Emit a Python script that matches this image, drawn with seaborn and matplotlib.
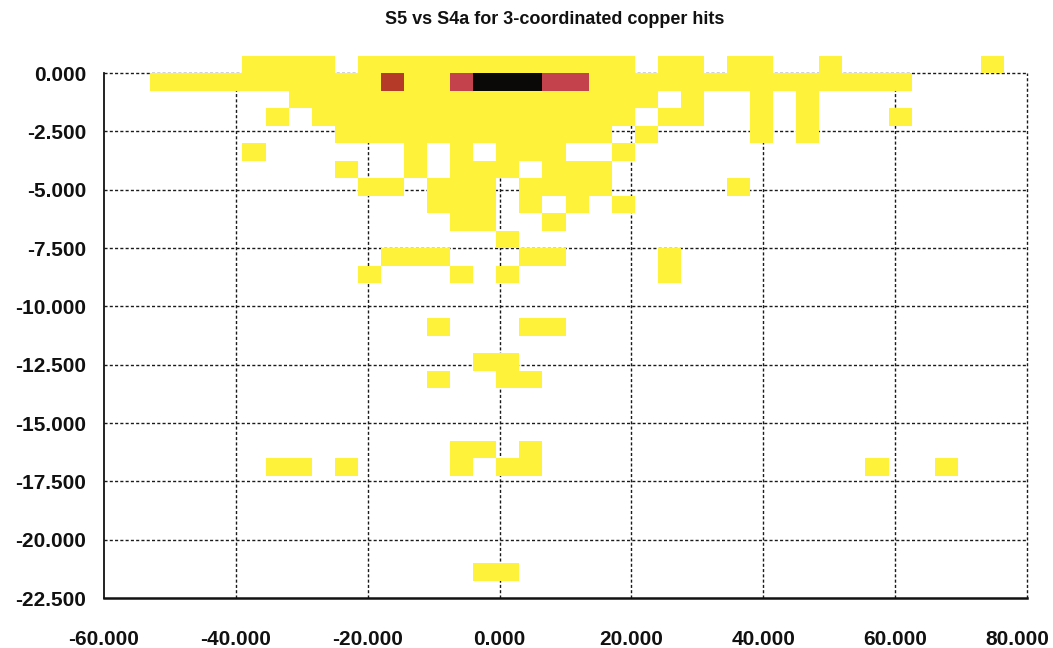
import numpy as np
import pandas as pd
import matplotlib
matplotlib.use("Agg")
import matplotlib.pyplot as plt
from matplotlib.colors import ListedColormap
from matplotlib.transforms import ScaledTranslation
import seaborn as sns

# Histogram bins: S4a along x (3.5 wide), S5 along y (0.75 high)
x_edges = np.arange(-60.0, 80.0 + 1e-6, 3.5)
y_edges = np.arange(-22.5, 0.75 + 1e-6, 0.75)

# Hit density per bin, one string per S5 bin from the top (+0.75..0) down to
# the bottom (-21.75..-22.5); one character per S4a bin from -60 to 80.
# '.' empty, '1' few hits, '2'/'3' more hits, '4' most hits
density_rows = [
    "......1111.111111111111.11.11..1......1.",
    "..111111111121134443311111111111111.....",
    "........1111111111111111.1..1.1.........",
    ".......1.11111111111111.11..1.1...1.....",
    "..........111111111111.1....1.1.........",
    "......1......1.1.111..1.................",
    "..........1..1.111.111..................",
    "...........11.111.1111.....1............",
    "..............111.1.1.1.................",
    "...............11..1....................",
    ".................1......................",
    "............111...11....1...............",
    "...........1...1.1......1...............",
    "........................................",
    "........................................",
    "..............1...11....................",
    "........................................",
    "................11......................",
    "..............1..11.....................",
    "........................................",
    "........................................",
    "........................................",
    "...............11.1.....................",
    ".......11.1....1.11..............1..1...",
    "........................................",
    "........................................",
    "........................................",
    "........................................",
    "........................................",
    "................11......................",
    "........................................",
]

level_colors = ["#fff23a", "#b53a27", "#c4424c", "#0b0808"]

x_ticks = [-60, -40, -20, 0, 20, 40, 60, 80]
y_ticks = [0.0, -2.5, -5.0, -7.5, -10.0, -12.5, -15.0, -17.5, -20.0, -22.5]

# Turn the density map into bin-centre records for the histogram
n_cols = len(x_edges) - 1
n_rows = len(y_edges) - 1
assert len(density_rows) == n_rows
records = []
for j, row in enumerate(density_rows):
    assert len(row) == n_cols, (j, len(row))
    y_top = y_edges[n_rows - j]
    for n, ch in enumerate(row):
        if ch != ".":
            records.append({
                "s4a": 0.5 * (x_edges[n] + x_edges[n + 1]),
                "s5": y_top - 0.375,
                "level": int(ch),
            })
df = pd.DataFrame(records)

sns.set_style("white")
plt.rcParams["font.family"] = ["Liberation Sans", "DejaVu Sans"]

W, H = 1053, 648
fig = plt.figure(figsize=(W / 100, H / 100), dpi=100)
ax = fig.add_axes([104 / W, (H - 598) / H, (1027 - 104) / W, (598 - 49.7) / H])

sns.histplot(
    data=df, x="s4a", y="s5", weights="level",
    bins=[x_edges, y_edges],
    cmap=ListedColormap(level_colors), vmin=0.5, vmax=4.5,
    ax=ax, zorder=2,
)

# Dotted reference grid, confined to the plotting frame and under the bins
dash = (0, (2.2, 1.6))
for yv in y_ticks[:-1]:
    ax.plot([-60, 80], [yv, yv], ls=dash, color="#1a1a1a", lw=1.0,
            zorder=1, clip_on=False)
for xv in x_ticks[1:]:
    ax.plot([xv, xv], [-22.5, 0], ls=dash, color="#1a1a1a", lw=1.0,
            zorder=1, clip_on=False)

ax.set_xlim(-60, 80)
ax.set_ylim(-22.5, 1.0)
ax.set_xticks(x_ticks)
ax.set_xticklabels([f"{v:.3f}" for v in x_ticks])
ax.set_yticks(y_ticks)
ax.set_yticklabels([f"{v:.3f}" for v in y_ticks])
ax.set_xlabel("")
ax.set_ylabel("")

for side in ("top", "right"):
    ax.spines[side].set_visible(False)
ax.spines["left"].set_bounds(-22.5, 0)
ax.spines["left"].set_linewidth(1.3)
ax.spines["left"].set_color("#111111")
ax.spines["bottom"].set_linewidth(1.8)
ax.spines["bottom"].set_color("#111111")

ax.tick_params(axis="x", direction="out", length=9, width=1.1, pad=14,
               labelsize=15, colors="#111111")
ax.tick_params(axis="y", direction="out", length=7, width=1.1, pad=6,
               labelsize=15, colors="#111111")
for lab in ax.get_xticklabels() + ax.get_yticklabels():
    lab.set_fontweight("bold")

# keep the right-most x label inside the figure
last = ax.get_xticklabels()[-1]
last.set_transform(last.get_transform()
                   + ScaledTranslation(-0.10, 0, fig.dpi_scale_trans))

fig.text(555 / W, 1 - 19 / H, "S5 vs S4a for 3-coordinated copper hits",
         ha="center", va="center", fontsize=13, fontweight="bold",
         color="#111111")

fig.savefig("out.png", dpi=100, facecolor="white")
